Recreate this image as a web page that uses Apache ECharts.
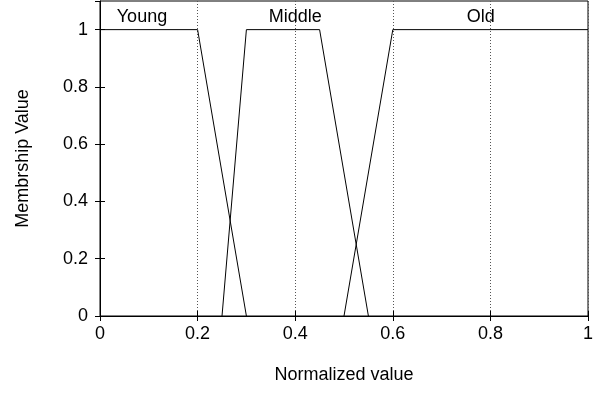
<!DOCTYPE html>
<html><head><meta charset="utf-8">
<script src="https://cdn.jsdelivr.net/npm/echarts@6/dist/echarts.min.js"></script>
<style>html,body{margin:0;padding:0;background:#fff}#c{width:606px;height:415px}</style>
</head><body><div id="c"></div>
<script>
var youngX = [0, 0.2, 0.3];
var youngY = [1, 1, 0];
var middleX = [0.25, 0.3, 0.45, 0.55];
var middleY = [0, 1, 1, 0];
var oldX = [0.5, 0.6, 1];
var oldY = [0, 1, 1];
var labelNames = ['Young', 'Middle', 'Old'];
var labelX = [0.086, 0.4, 0.78];
var labelY = [1.045, 1.045, 1.045];
var xTicks = [0, 0.2, 0.4, 0.6, 0.8, 1];
var yTicks = [0, 0.2, 0.4, 0.6, 0.8, 1];

function pairs(xs, ys){ return xs.map(function(x,i){return [x, ys[i]];}); }
var FONT = 'Liberation Sans';
var FS = 18;
var lineStyle = {color:'#000', width:1};
var chart = echarts.init(document.getElementById('c'), null, {renderer:'canvas'});
chart.setOption({
  animation:false,
  backgroundColor:'#fff',
  textStyle:{fontFamily:FONT},
  grid:{left:100, right:18, top:1, bottom:99, show:true, borderColor:'#000', borderWidth:1, backgroundColor:'transparent'},
  xAxis:[{
    type:'value', min:0, max:1, interval:0.2,
    name:'Normalized value', nameLocation:'middle', nameGap:50,
    nameTextStyle:{fontFamily:FONT, fontSize:FS, color:'#000'},
    axisLine:{show:true, lineStyle:{color:'#000'}},
    axisTick:{show:true, inside:true, length:5, lineStyle:{color:'#000'}},
    axisLabel:{fontFamily:FONT, fontSize:FS, color:'#000', margin:9,
      formatter:function(v){return xTicks.indexOf(+v.toFixed(2))>=0 ? String(+v.toFixed(2)) : '';}},
    splitLine:{show:true, lineStyle:{color:'#555', type:[1,2], width:1}}
  },{
    type:'value', min:0, max:1, interval:0.2, position:'top',
    axisLine:{show:false}, axisLabel:{show:false}, splitLine:{show:false},
    axisTick:{show:true, inside:true, length:5, lineStyle:{color:'#000'}}
  }],
  yAxis:[{
    type:'value', min:0, max:1.1, interval:0.2,
    name:'Membrship Value', nameLocation:'middle', nameGap:68, nameRotate:90,
    nameTextStyle:{fontFamily:FONT, fontSize:FS, color:'#000'},
    axisLine:{show:true, lineStyle:{color:'#000'}},
    axisTick:{show:true, inside:true, length:5, lineStyle:{color:'#000'}},
    axisLabel:{fontFamily:FONT, fontSize:FS, color:'#000', margin:12, showMaxLabel:false,
      formatter:function(v){return yTicks.indexOf(+v.toFixed(2))>=0 ? String(+v.toFixed(2)) : '';}},
    splitLine:{show:false}
  },{
    type:'value', min:0, max:1.1, interval:0.2, position:'right',
    axisLine:{show:false}, axisLabel:{show:false}, splitLine:{show:false},
    axisTick:{show:true, inside:true, length:5, lineStyle:{color:'#000'}}
  }],
  series:[
    {type:'line', data:pairs(youngX, youngY), symbol:'none', lineStyle:lineStyle, silent:true},
    {type:'line', data:pairs(middleX, middleY), symbol:'none', lineStyle:lineStyle, silent:true},
    {type:'line', data:pairs(oldX, oldY), symbol:'none', lineStyle:lineStyle, silent:true},
    {type:'scatter', symbolSize:0, silent:true, itemStyle:{color:'#000', opacity:1},
      data:labelNames.map(function(n,i){return {name:n, value:[labelX[i], labelY[i]]};}),
      label:{show:true, position:'inside', formatter:'{b}', fontFamily:FONT, fontSize:FS, color:'#000', textBorderWidth:0, opacity:1}}
  ]
});
</script></body></html>
